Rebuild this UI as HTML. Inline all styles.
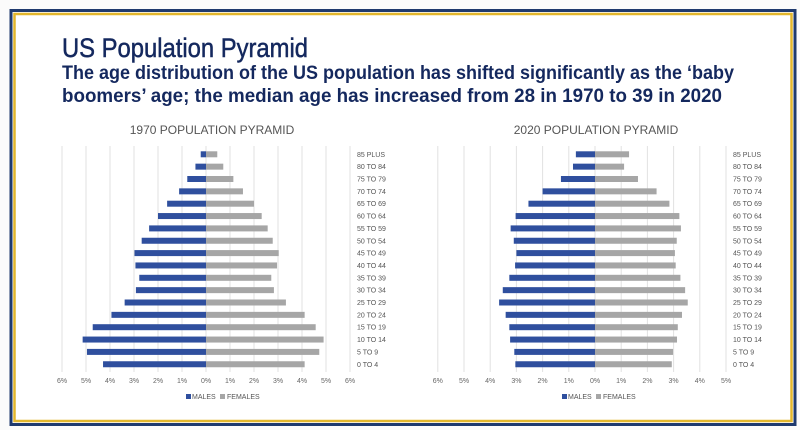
<!DOCTYPE html>
<html><head><meta charset="utf-8"><style>
html,body{margin:0;padding:0;background:#fbfbfb;}
svg{display:block;font-family:"Liberation Sans",sans-serif;}
</style></head><body>
<svg id="s" width="800" height="430" viewBox="0 0 800 430">
<rect x="0" y="0" width="800" height="430" fill="#fbfbfb"/>
<rect x="11" y="10.5" width="784" height="414" fill="#fff" stroke="#1f3a6e" stroke-width="3"/>
<rect x="14.5" y="14" width="777" height="407" fill="#fff" stroke="#e2b62c" stroke-width="2.5"/>
<text x="62" y="57" font-size="27" fill="#14285e" stroke="#14285e" stroke-width="0.5" textLength="246" lengthAdjust="spacingAndGlyphs">US Population Pyramid</text>
<text x="62" y="79" font-size="19" font-weight="bold" fill="#14285e" textLength="672" lengthAdjust="spacingAndGlyphs">The age distribution of the US population has shifted significantly as the ‘baby</text>
<text x="62" y="102" font-size="19" font-weight="bold" fill="#14285e" textLength="660" lengthAdjust="spacingAndGlyphs">boomers’ age; the median age has increased from 28 in 1970 to 39 in 2020</text>
<g id="c1"></g><g id="c2"></g>
</svg>
<script>
const ages=["85 PLUS","80 TO 84","75 TO 79","70 TO 74","65 TO 69","60 TO 64","55 TO 59","50 TO 54","45 TO 49","40 TO 44","35 TO 39","30 TO 34","25 TO 29","20 TO 24","15 TO 19","10 TO 14","5 TO 9","0 TO 4"];
const males1970=[0.22,0.44,0.78,1.12,1.62,2.0,2.37,2.68,2.98,2.94,2.78,2.92,3.39,3.94,4.72,5.14,4.96,4.29];
const females1970=[0.47,0.72,1.14,1.54,2.0,2.32,2.57,2.78,3.03,2.96,2.72,2.83,3.33,4.11,4.57,4.9,4.72,4.11];
const males2020=[0.73,0.84,1.3,2.0,2.54,3.03,3.22,3.1,3.0,3.05,3.27,3.52,3.66,3.41,3.27,3.24,3.08,3.04];
const females2020=[1.3,1.11,1.64,2.35,2.84,3.22,3.28,3.12,3.05,3.08,3.26,3.44,3.54,3.32,3.16,3.13,2.98,2.93];
const ticks1970=[-6,-5,-4,-3,-2,-1,0,1,2,3,4,5,6];
const ticks2020=[-6,-5,-4,-3,-2,-1,0,1,2,3,4,5];
const NS="http://www.w3.org/2000/svg";
function mk(p,t,a){const e=document.createElementNS(NS,t);for(const k in a)e.setAttribute(k,a[k]);p.appendChild(e);return e;}
function chart(g,cfg,males,females,ticks){
  const xs=v=>cfg.x0+v*cfg.k;
  const ys=i=>cfg.yTop+i*cfg.step;
  const t=mk(g,"text",{x:cfg.titleX,y:134,"font-size":12,fill:"#555","text-anchor":"middle"});
  
  
  t.textContent=cfg.title;
  ticks.forEach(v=>{
    const l=mk(g,"line",{x1:xs(v),x2:xs(v),y1:146,y2:372,stroke:"#e2e2e2","stroke-width":1});
    
    
    const tx=mk(g,"text",{x:xs(v),y:383,"font-size":7,fill:"#666","text-anchor":"middle"});
    
    
    tx.textContent=Math.abs(v)+"%";
  });
  ages.forEach((a,i)=>{
    const y=ys(i);
    const bm=mk(g,"rect",{x:xs(-males[i]),y:y-3,width:males[i]*cfg.k,height:6,fill:"#2f4f9e"});
    
    
    const bf=mk(g,"rect",{x:xs(0),y:y-3,width:females[i]*cfg.k,height:6,fill:"#a6a6a6"});
    
    
    const lb=mk(g,"text",{x:cfg.labelX,y:y+2.5,"font-size":7,fill:"#555"});
    
    
    lb.textContent=a;
  });
  const lg=mk(g,"g",{});
  
  
  mk(lg,"rect",{x:cfg.legX,y:394,width:5,height:5,fill:"#2f4f9e"});
  const m=mk(lg,"text",{x:cfg.legX+6,y:399,"font-size":7,fill:"#555"});m.textContent="MALES";
  mk(lg,"rect",{x:cfg.legX+34,y:394,width:5,height:5,fill:"#a6a6a6"});
  const f=mk(lg,"text",{x:cfg.legX+41,y:399,"font-size":7,fill:"#555"});f.textContent="FEMALES";
}
chart(document.getElementById("c1"),{x0:206,k:24,yTop:154.3,step:12.35,labelX:357,titleX:212,legX:186,title:"1970 POPULATION PYRAMID"},males1970,females1970,ticks1970);
chart(document.getElementById("c2"),{x0:595,k:26.2,yTop:154.3,step:12.35,labelX:733,titleX:596,legX:562,title:"2020 POPULATION PYRAMID"},males2020,females2020,ticks2020);
</script>
</body></html>
